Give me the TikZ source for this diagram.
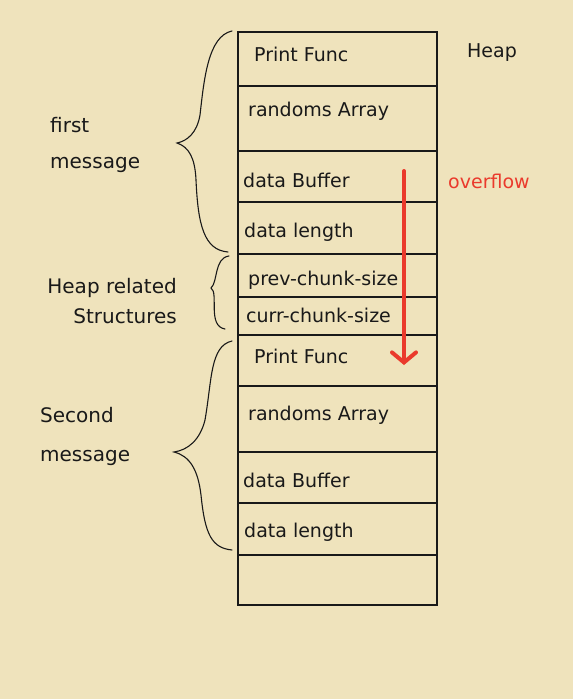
\documentclass[tikz,border=0pt]{standalone}
\usepackage{fontspec}
\setmainfont{DejaVu Sans}
\usetikzlibrary{arrows.meta}
\definecolor{paper}{RGB}{239,227,188}
\definecolor{ink}{RGB}{25,25,25}
\definecolor{redink}{RGB}{234,58,44}
\begin{document}
\begin{tikzpicture}[x=1pt,y=-1pt,
  rowbox/.style={draw=ink,line width=1.1pt,minimum width=199pt,inner sep=0pt,outer sep=0pt,anchor=north west},
  celltext/.style={inner sep=0pt,anchor=base west,text=ink,font=\fontsize{19}{22}\selectfont},
  sidelabel/.style={inner sep=0pt,text=ink},
  bracestroke/.style={draw=ink,line width=1.1pt,line cap=round},
  overarrow/.style={draw=redink,line width=4pt,line cap=round,-{Straight Barb[length=10pt,width=24pt,line cap=round]}}
]
\fill[paper] (0,0) rectangle (573,699);
\useasboundingbox (0,0) rectangle (573,699);

% heap rows
\node[rowbox,minimum height=54pt] (r1) at (238,32) {};
\node[rowbox,minimum height=65pt] (r2) at (r1.south west) {};
\node[rowbox,minimum height=51pt] (r3) at (r2.south west) {};
\node[rowbox,minimum height=52pt] (r4) at (r3.south west) {};
\node[rowbox,minimum height=43pt] (r5) at (r4.south west) {};
\node[rowbox,minimum height=38pt] (r6) at (r5.south west) {};
\node[rowbox,minimum height=51pt] (r7) at (r6.south west) {};
\node[rowbox,minimum height=66pt] (r8) at (r7.south west) {};
\node[rowbox,minimum height=51pt] (r9) at (r8.south west) {};
\node[rowbox,minimum height=52pt] (r10) at (r9.south west) {};
\node[rowbox,minimum height=50pt] (r11) at (r10.south west) {};

% cell texts
\node[celltext] (t1) at (254,61) {Print Func};
\node[celltext] (t2) at (248,116) {randoms Array};
\node[celltext] (t3) at (243,187) {data Buffer};
\node[celltext] (t4) at (244,237) {data length};
\node[celltext] (t5) at (248,285) {prev-chunk-size};
\node[celltext] (t6) at (246,322) {curr-chunk-size};
\node[celltext] (t7) at (254,363) {Print Func};
\node[celltext] (t8) at (248,420) {randoms Array};
\node[celltext] (t9) at (243,487) {data Buffer};
\node[celltext] (t10) at (244,537) {data length};

% labels
\node[sidelabel,anchor=base west,font=\fontsize{19}{22}\selectfont] (heap) at (467,57) {Heap};
\node[sidelabel,anchor=base west,text=redink,font=\fontsize{19}{22}\selectfont] (ovf) at (448,188) {overflow};
\node[sidelabel,anchor=north west,align=left,font=\fontsize{20}{36}\selectfont] (first) at (50,117) {first\\message};
\node[sidelabel,anchor=north east,align=right,font=\fontsize{20}{30}\selectfont] (hrs) at (177,278) {Heap related\\Structures};
\node[sidelabel,anchor=north west,align=left,font=\fontsize{20}{39}\selectfont] (second) at (40,407) {Second\\message};

% braces
\draw[bracestroke] (232,31) .. controls (208,36) and (204,80) .. (200,115)
  .. controls (197,133) and (187,141) .. (177,143)
  .. controls (189,147) and (195,158) .. (196,180)
  .. controls (198,225) and (204,250) .. (228,252);
\draw[bracestroke] (229,256) .. controls (214,258) and (218,282) .. (211,288)
  .. controls (219,293) and (207,326) .. (225,329);
\draw[bracestroke] (232,341) .. controls (210,346) and (212,380) .. (205,420)
  .. controls (200,440) and (188,450) .. (174,452)
  .. controls (190,456) and (198,470) .. (201,495)
  .. controls (205,535) and (212,548) .. (232,550);

% overflow arrow
\coordinate (ovs) at (404,171);
\coordinate (ove) at (404,365);
\draw[overarrow] (ovs) -- (ove);
\end{tikzpicture}
\end{document}
